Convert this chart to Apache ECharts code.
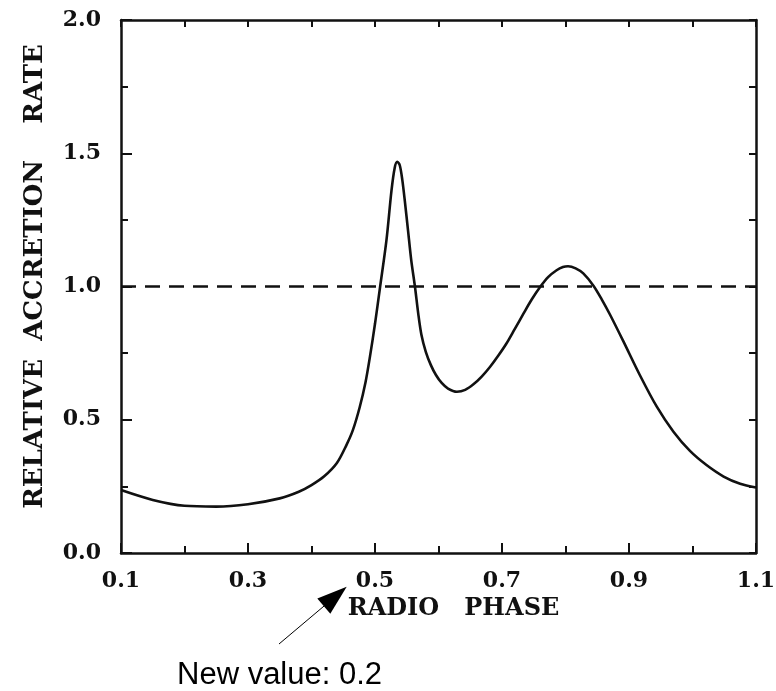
<!DOCTYPE html>
<html>
<head>
<meta charset="utf-8">
<script src="https://cdn.jsdelivr.net/npm/echarts@6/dist/echarts.min.js"></script>
<style>html,body{margin:0;padding:0;background:#fff;}#c{width:776px;height:691px;}</style>
</head>
<body>
<div id="c"></div>
<script>
// ---- data ----
const phase = [0.10,0.15,0.20,0.25,0.30,0.35,0.38,0.40,0.42,0.44,0.455,0.465,0.476,0.485,0.492,0.500,0.508,0.518,0.526,0.531,0.535,0.539,0.543,0.547,0.552,0.557,0.563,0.568,0.573,0.580,0.588,0.596,0.605,0.615,0.629,0.642,0.655,0.668,0.681,0.694,0.707,0.720,0.734,0.747,0.760,0.773,0.786,0.796,0.804,0.816,0.828,0.844,0.857,0.870,0.891,0.917,0.944,0.970,0.996,1.022,1.049,1.075,1.10];
const rate  = [0.236,0.199,0.177,0.174,0.183,0.205,0.230,0.255,0.288,0.338,0.405,0.460,0.548,0.640,0.736,0.860,0.998,1.173,1.361,1.445,1.468,1.455,1.400,1.320,1.211,1.100,0.998,0.900,0.820,0.755,0.705,0.668,0.638,0.617,0.605,0.612,0.633,0.662,0.698,0.740,0.786,0.840,0.899,0.952,0.998,1.036,1.061,1.073,1.076,1.068,1.049,1.003,0.952,0.895,0.795,0.668,0.548,0.455,0.383,0.330,0.287,0.260,0.246];
const refPhase = [0.1, 1.1];
const refRate = [1.0, 1.0];
const xLabelTicks = ['0.1','0.3','0.5','0.7','0.9','1.1'];
const yLabelTicks = ['0.0','0.5','1.0','1.5','2.0'];
const xTitle = 'RADIO   PHASE';
const yTitle = 'RELATIVE  ACCRETION    RATE';
const noteText = 'New value: 0.2';

const serif = 'DejaVu Serif';
const ink = '#111';
const chart = echarts.init(document.getElementById('c'), null, {renderer: 'canvas'});

const curve = phase.map((p, i) => [p, rate[i]]);
const ref = refPhase.map((p, i) => [p, refRate[i]]);

const fmtX = v => { const s = v.toFixed(1); return xLabelTicks.indexOf(s) >= 0 ? s : ''; };
const fmtY = v => { const s = v.toFixed(1); return yLabelTicks.indexOf(s) >= 0 ? s : ''; };

chart.setOption({
  animation: false,
  backgroundColor: '#fff',
  grid: {left: 121, right: 20, top: 20, bottom: 138, containLabel: false, outerBoundsMode: 'none'},
  xAxis: [{
    type: 'value', min: 0.1, max: 1.1, interval: 0.2, position: 'bottom',
    axisLine: {show: true, onZero: false, lineStyle: {color: ink, width: 2.5}},
    axisTick: {show: true, inside: true, length: 10, lineStyle: {color: ink, width: 2}},
    minorTick: {show: true, splitNumber: 2, length: 7, lineStyle: {color: ink, width: 2}},
    splitLine: {show: false}, minorSplitLine: {show: false},
    axisLabel: {formatter: fmtX, margin: 17, color: ink, fontFamily: serif, fontWeight: 'bold', fontSize: 22},
    name: xTitle, nameLocation: 'middle', nameGap: 36,
    nameTextStyle: {fontFamily: serif, fontWeight: 'bold', fontSize: 24, color: ink, padding: [0, 0, 0, 30]}
  }, {
    type: 'value', min: 0.1, max: 1.1, interval: 0.2, position: 'top',
    axisLine: {show: true, onZero: false, lineStyle: {color: ink, width: 2.5}},
    axisTick: {show: true, inside: true, length: 7, lineStyle: {color: ink, width: 2}},
    minorTick: {show: true, splitNumber: 2, length: 7, lineStyle: {color: ink, width: 2}},
    splitLine: {show: false}, axisLabel: {show: false}
  }],
  yAxis: [{
    type: 'value', min: 0, max: 2, interval: 0.5, position: 'left',
    axisLine: {show: true, onZero: false, lineStyle: {color: ink, width: 2.5}},
    axisTick: {show: true, inside: true, length: 11, lineStyle: {color: ink, width: 2}},
    minorTick: {show: true, splitNumber: 2, length: 7, lineStyle: {color: ink, width: 2}},
    splitLine: {show: false},
    axisLabel: {formatter: fmtY, margin: 20, color: ink, fontFamily: serif, fontWeight: 'bold', fontSize: 22},
    name: yTitle, nameLocation: 'middle', nameGap: 73, nameRotate: 90,
    nameTextStyle: {fontFamily: serif, fontWeight: 'bold', fontSize: 26, color: ink, padding: [0, 0, 0, 20]}
  }, {
    type: 'value', min: 0, max: 2, interval: 0.5, position: 'right',
    axisLine: {show: true, onZero: false, lineStyle: {color: ink, width: 2.5}},
    axisTick: {show: true, inside: true, length: 7, lineStyle: {color: ink, width: 2}},
    minorTick: {show: true, splitNumber: 2, length: 7, lineStyle: {color: ink, width: 2}},
    splitLine: {show: false}, axisLabel: {show: false}
  }],
  series: [{
    type: 'line', data: curve, showSymbol: false, smooth: 0.3,
    lineStyle: {color: ink, width: 2.6}, z: 3
  }, {
    type: 'line', data: ref, showSymbol: false,
    lineStyle: {color: ink, width: 2.4, type: [15, 9]}, z: 2
  }],
  graphic: [{
    type: 'line', shape: {x1: 279, y1: 644, x2: 330, y2: 601},
    style: {stroke: '#000', lineWidth: 1}
  }, {
    type: 'polygon', shape: {points: [[346.7, 586.7], [330.3, 613.7], [317.3, 598.5]]},
    style: {fill: '#000'}
  }, {
    type: 'text', left: 177, top: 660,
    style: {text: noteText, font: '31px "Liberation Sans", Arial, sans-serif', fill: '#000'}
  }]
});
</script>
</body>
</html>
